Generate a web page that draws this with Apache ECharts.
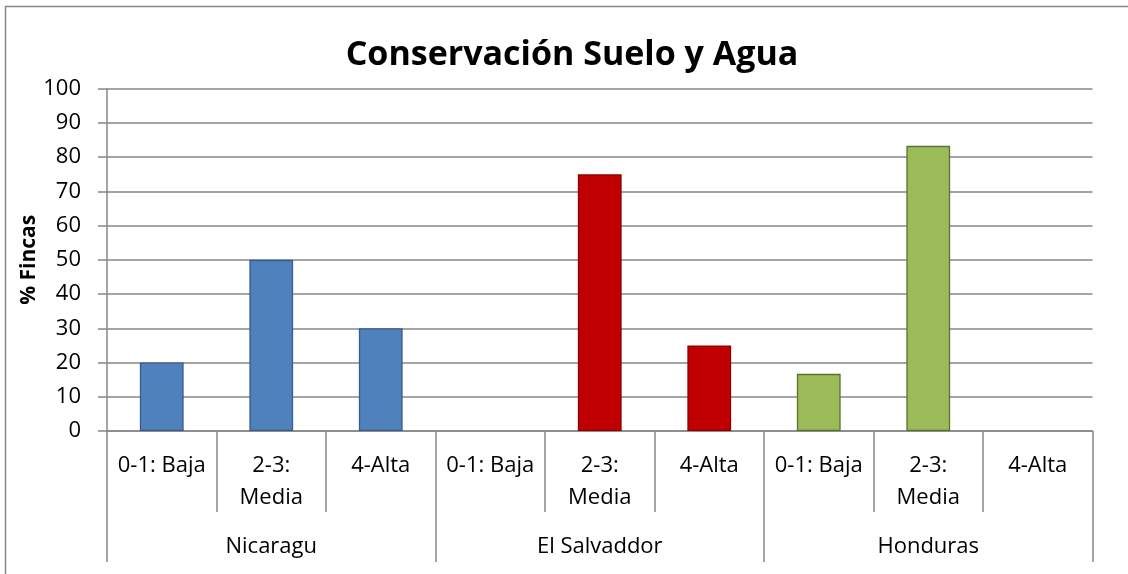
<!DOCTYPE html>
<html>
<head>
<meta charset="utf-8">
<script src="https://cdn.jsdelivr.net/npm/echarts@6/dist/echarts.min.js"></script>
<style>
  html, body { margin: 0; padding: 0; background: #fff; }
  #chart { width: 1128px; height: 574px; }
</style>
</head>
<body>
<div id="chart"></div>
<script>
// ---- Data ----
const titleText = 'Conservación Suelo y Agua';
const yAxisName = '% Fincas';
const groups = ['Nicaragu', 'El Salvaddor', 'Honduras'];
const subcategories = ['0-1: Baja', '2-3:\nMedia', '4-Alta'];
const nicaraguValues = [20, 50, 30];
const elSalvadorValues = [0, 75, 25];
const hondurasValues = [16.7, 83.3, 0];
const yTicks = [0, 10, 20, 30, 40, 50, 60, 70, 80, 90, 100];

// ---- Styles ----
const FONT = '"Open Sans", "Liberation Sans", sans-serif';
const GRAY = '#878787';
const groupFill = ['#4F81BD', '#C00000', '#9BBB59'];
const groupBorder = ['#385D8A', '#8C0000', '#5A7230'];

const groupValues = [nicaraguValues, elSalvadorValues, hondurasValues];
const xCats = [];
const barData = [];
groups.forEach((g, gi) => {
  subcategories.forEach((s, si) => {
    xCats.push(s);
    const v = groupValues[gi][si];
    barData.push({
      value: v,
      itemStyle: {
        color: groupFill[gi],
        borderColor: groupBorder[gi],
        borderWidth: v === 0 ? 0 : 1.3
      }
    });
  });
});

const chart = echarts.init(document.getElementById('chart'), null, { renderer: 'canvas' });
chart.setOption({
  animation: false,
  backgroundColor: '#fff',
  textStyle: { fontFamily: FONT },
  graphic: [
    {
      type: 'rect',
      z: -10,
      shape: { x: 5.5, y: 6.5, width: 1300, height: 800 },
      style: { fill: 'none', stroke: GRAY, lineWidth: 1.5 }
    },
    {
      type: 'text',
      x: 572,
      y: 55,
      style: {
        text: titleText,
        font: 'bold 34px ' + FONT,
        fill: '#000',
        textAlign: 'center',
        textVerticalAlign: 'middle'
      }
    }
  ],
  grid: { left: 107, right: 35.5, top: 88.7, bottom: 143, containLabel: false },
  xAxis: [
    {
      type: 'category',
      data: xCats,
      position: 'bottom',
      axisLine: { show: true, lineStyle: { color: GRAY, width: 1.5 } },
      axisTick: { show: true, interval: 0, length: 81, lineStyle: { color: GRAY, width: 1.5 } },
      axisLabel: { interval: 0, margin: 19, fontSize: 22, lineHeight: 32, color: '#000', fontFamily: FONT },
      splitLine: { show: false }
    },
    {
      type: 'category',
      data: groups,
      position: 'bottom',
      axisLine: { show: false },
      axisTick: { show: true, interval: 0, length: 131, lineStyle: { color: GRAY, width: 1.5 } },
      axisLabel: { interval: 0, margin: 102, fontSize: 22, lineHeight: 28, color: '#000', fontFamily: FONT },
      splitLine: { show: false }
    }
  ],
  yAxis: {
    type: 'value',
    min: yTicks[0],
    max: yTicks[yTicks.length - 1],
    interval: yTicks[1] - yTicks[0],
    name: yAxisName,
    nameLocation: 'middle',
    nameRotate: 90,
    nameGap: 67,
    nameMoveOverlap: false,
    nameTextStyle: { fontSize: 21, fontWeight: 'bold', color: '#000', fontFamily: FONT },
    axisLine: { show: true, lineStyle: { color: GRAY, width: 1.5 } },
    axisTick: { show: true, length: 9, lineStyle: { color: GRAY, width: 1.5 } },
    axisLabel: { margin: 26, fontSize: 22, color: '#000', fontFamily: FONT },
    splitLine: { show: true, lineStyle: { color: GRAY, width: 1.5 } }
  },
  series: [
    {
      type: 'bar',
      xAxisIndex: 0,
      barWidth: '40%',
      data: barData
    }
  ]
});
</script>
</body>
</html>
